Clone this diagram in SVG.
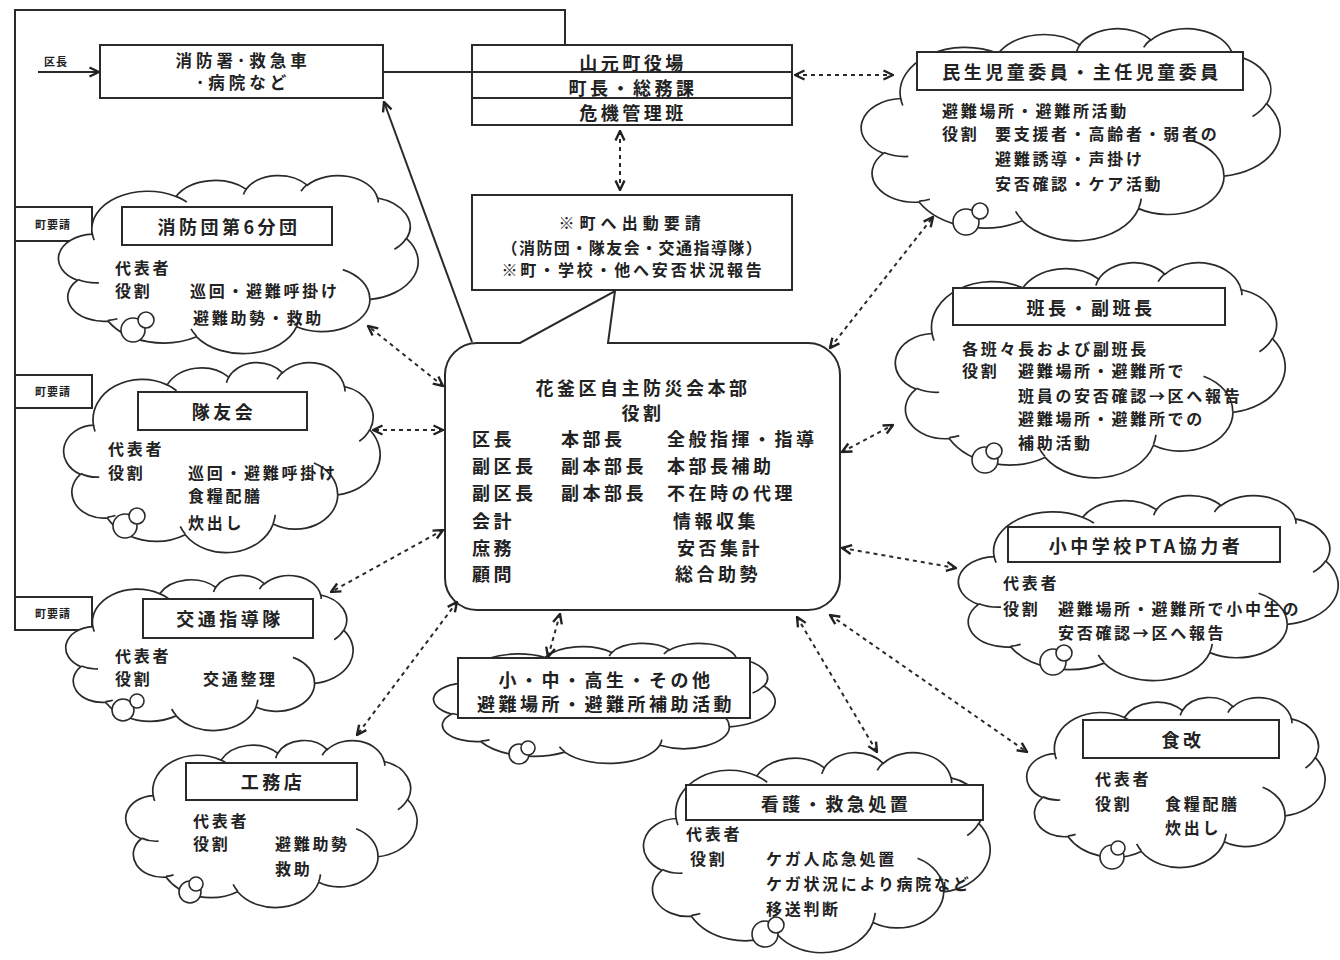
<svg xmlns="http://www.w3.org/2000/svg" width="1340" height="960" viewBox="0 0 1340 960">
<style>
text{font-family:"Noto Sans CJK JP","Noto Sans CJK SC",sans-serif;fill:#222;font-weight:bold;dominant-baseline:central}
.b{font-size:16px;letter-spacing:2.7px}
.h{font-size:18px;letter-spacing:3.5px;text-anchor:middle}
.c{font-size:18px;letter-spacing:3.5px}
.f{font-size:16.5px;letter-spacing:4px}
.m{text-anchor:middle}
.s{font-size:11px;letter-spacing:1px}
.box{fill:#fff;stroke:#2a2a2a;stroke-width:2}
.ln{fill:none;stroke:#2a2a2a;stroke-width:2}
.dl{fill:none;stroke:#2a2a2a;stroke-width:2;stroke-dasharray:4 4;marker-start:url(#ah);marker-end:url(#ah)}
.tail{fill:#fff;stroke:#2a2a2a;stroke-width:1.6}
</style>
<defs>
<marker id="ah" viewBox="0 0 12 12" refX="11" refY="6" markerWidth="12" markerHeight="12" markerUnits="userSpaceOnUse" orient="auto-start-reverse">
<path d="M1.5,1.5 L11,6 L1.5,10.5" fill="none" stroke="#222" stroke-width="2.4" stroke-dasharray="none"/>
</marker>
<g id="cloud">
<path fill="#fff" stroke="#2a2a2a" stroke-width="1.7" vector-effect="non-scaling-stroke" d="M9.03,33.26 A15.63,21.27 0 0 1 32.42,12.04 A12.34,16.82 0 0 1 51.98,7.94 A10.10,13.76 0 0 1 69.06,5.74 A11.24,15.27 0 0 1 88.70,12.90 A12.34,16.84 0 0 1 96.80,35.78 A15.68,21.34 0 0 1 86.59,69.91 A13.39,18.21 0 0 1 66.10,85.21 A15.63,21.33 0 0 1 38.15,90.89 A17.87,24.41 0 0 1 13.44,82.10 A10.09,13.70 0 0 1 4.89,59.14 A10.06,13.76 0 0 1 9.03,33.26 Z"/>
<path fill="none" stroke="#2a2a2a" stroke-width="1.7" vector-effect="non-scaling-stroke" d="M10.86,60.59 A10.06,13.76 0 0 1 5.00,58.75 M16.04,80.78 A10.09,13.70 0 0 1 13.47,81.67 M38.14,90.49 A15.63,21.33 0 0 1 36.60,86.46 M66.73,80.44 A15.63,21.33 0 0 1 66.11,84.86 M79.00,53.13 A13.39,18.21 0 0 1 86.53,69.65 M96.75,35.54 A12.34,16.84 0 0 1 93.41,41.73 M88.71,12.56 A11.24,15.27 0 0 1 88.89,15.49 M67.31,9.15 A11.24,15.27 0 0 1 69.03,5.42 M51.25,10.93 A10.10,13.76 0 0 1 52.09,7.71 M32.41,12.02 A15.63,21.27 0 0 1 35.42,15.14 M9.55,36.55 A15.63,21.27 0 0 1 9.03,33.26"/>
</g>
</defs>
<rect width="1340" height="960" fill="#fff"/>

<!-- request labels on the frame -->
<g id="req1"><rect class="box" x="15" y="207" width="77" height="34"/><text class="s m" x="53" y="224">町要請</text></g>
<g id="req2"><rect class="box" x="15" y="375" width="77" height="33"/><text class="s m" x="53" y="391">町要請</text></g>
<g id="req3"><rect class="box" x="15" y="597" width="77" height="33"/><text class="s m" x="53" y="613">町要請</text></g>

<g id="fire-station">
<rect class="box" x="100" y="45" width="283" height="53"/>
<text class="f m" x="243" y="60">消防署･救急車</text>
<text class="f m" x="243" y="82">･病院など</text>
</g>

<g id="town-office">
<rect class="box" x="472" y="45" width="320" height="80"/>
<line class="ln" x1="472" y1="72" x2="792" y2="72"/>
<line class="ln" x1="472" y1="98" x2="792" y2="98"/>
<text class="c m" x="633" y="62">山元町役場</text>
<text class="c m" x="633" y="87">町長・総務課</text>
<text class="c m" x="633" y="112">危機管理班</text>
</g>

<g id="request-note">
<rect class="box" x="472" y="195" width="320" height="95"/>
<text class="b m" x="631" y="222" textLength="145" lengthAdjust="spacing">※町へ出動要請</text>
<text class="b m" x="633" y="247" textLength="263" lengthAdjust="spacing">（消防団・隊友会・交通指導隊）</text>
<text class="b m" x="633" y="269" textLength="263" lengthAdjust="spacing">※町・学校・他へ安否状況報告</text>
</g>

<g id="hq">
<path class="box" d="M477,343 H520 L615,291 L608,343 H808 A32,32 0 0 1 840,375 V578 A32,32 0 0 1 808,610 H477 A32,32 0 0 1 445,578 V375 A32,32 0 0 1 477,343 Z"/>
<text class="c m" x="643" y="387">花釜区自主防災会本部</text>
<text class="c m" x="643" y="412">役割</text>
<text class="c" x="472" y="438">区長</text>
<text class="c" x="561" y="438">本部長</text>
<text class="c" x="667" y="438">全般指揮・指導</text>
<text class="c" x="472" y="465">副区長</text>
<text class="c" x="561" y="465">副本部長</text>
<text class="c" x="667" y="465">本部長補助</text>
<text class="c" x="472" y="492">副区長</text>
<text class="c" x="561" y="492">副本部長</text>
<text class="c" x="667" y="492">不在時の代理</text>
<text class="c" x="472" y="520">会計</text>
<text class="c" x="673" y="520">情報収集</text>
<text class="c" x="472" y="547">庶務</text>
<text class="c" x="677" y="547">安否集計</text>
<text class="c" x="472" y="573">顧問</text>
<text class="c" x="675" y="573">総合助勢</text>
</g>

<g id="minsei">
<use href="#cloud" transform="translate(863,28) scale(4.17,2.12)"/>
<circle class="tail" cx="966" cy="222" r="13"/><circle class="tail" cx="980" cy="211" r="8"/>
<rect class="box" x="917" y="52" width="326" height="38"/>
<text class="h" x="1082" y="71">民生児童委員・主任児童委員</text>
<text class="b" x="942" y="110">避難場所・避難所活動</text>
<text class="b" x="942" y="133">役割</text>
<text class="b" x="995" y="133">要支援者・高齢者・弱者の</text>
<text class="b" x="995" y="158">避難誘導・声掛け</text>
<text class="b" x="995" y="183">安否確認・ケア活動</text>
</g>

<g id="hancho">
<use href="#cloud" transform="translate(897,262) scale(3.88,2.15)"/>
<circle class="tail" cx="985" cy="460" r="13"/><circle class="tail" cx="994" cy="451" r="8"/>
<rect class="box" x="953" y="288" width="272" height="37"/>
<text class="h" x="1091" y="307">班長・副班長</text>
<text class="b" x="962" y="348">各班々長および副班長</text>
<text class="b" x="962" y="370">役割</text>
<text class="b" x="1018" y="370">避難場所・避難所で</text>
<text class="b" x="1018" y="395">班員の安否確認→区へ報告</text>
<text class="b" x="1018" y="418">避難場所・避難所での</text>
<text class="b" x="1018" y="442">補助活動</text>
</g>

<g id="pta">
<use href="#cloud" transform="translate(960,495) scale(3.78,1.85)"/>
<circle class="tail" cx="1053" cy="662" r="13"/><circle class="tail" cx="1064" cy="653" r="8"/>
<rect class="box" x="1008" y="527" width="272" height="35"/>
<text class="h" x="1146" y="545">小中学校PTA協力者</text>
<text class="b" x="1003" y="582">代表者</text>
<text class="b" x="1003" y="608">役割</text>
<text class="b" x="1058" y="608">避難場所・避難所で小中生の</text>
<text class="b" x="1058" y="632">安否確認→区へ報告</text>
</g>

<g id="shokukai">
<use href="#cloud" transform="translate(1028,697) scale(2.97,1.70)"/>
<circle class="tail" cx="1112" cy="857" r="12"/><circle class="tail" cx="1118" cy="848" r="7"/>
<rect class="box" x="1083" y="720" width="196" height="38"/>
<text class="h" x="1183" y="739">食改</text>
<text class="b" x="1095" y="778">代表者</text>
<text class="b" x="1095" y="803">役割</text>
<text class="b" x="1165" y="803">食糧配膳</text>
<text class="b" x="1165" y="827">炊出し</text>
</g>

<g id="nursing">
<use href="#cloud" transform="translate(645,752) scale(3.45,2.00)"/>
<circle class="tail" cx="765" cy="934" r="13"/><circle class="tail" cx="776" cy="925" r="8"/>
<rect class="box" x="686" y="785" width="297" height="35"/>
<text class="h" x="836" y="803">看護・救急処置</text>
<text class="b" x="686" y="833">代表者</text>
<text class="b" x="690" y="858">役割</text>
<text class="b" x="766" y="858">ケガ人応急処置</text>
<text class="b" x="766" y="883">ケガ状況により病院など</text>
<text class="b" x="766" y="908">移送判断</text>
</g>

<g id="students">
<use href="#cloud" transform="translate(435,643) scale(3.40,1.20)"/>
<circle class="tail" cx="519" cy="754" r="10"/><circle class="tail" cx="528" cy="748" r="7"/>
<rect class="box" x="458" y="658" width="292" height="60"/>
<text class="h" x="606" y="679">小・中・高生・その他</text>
<text class="h" x="606" y="703">避難場所・避難所補助活動</text>
</g>

<g id="koumuten">
<use href="#cloud" transform="translate(127,740) scale(2.90,1.67)"/>
<circle class="tail" cx="190" cy="892" r="11"/><circle class="tail" cx="196" cy="884" r="7"/>
<rect class="box" x="186" y="763" width="171" height="37"/>
<text class="h" x="273" y="781">工務店</text>
<text class="b" x="193" y="820">代表者</text>
<text class="b" x="193" y="843">役割</text>
<text class="b" x="275" y="843">避難助勢</text>
<text class="b" x="275" y="868">救助</text>
</g>

<g id="traffic">
<use href="#cloud" transform="translate(67,575) scale(2.86,1.55)"/>
<circle class="tail" cx="123" cy="710" r="11"/><circle class="tail" cx="137" cy="701" r="7"/>
<rect class="box" x="143" y="599" width="170" height="39"/>
<text class="h" x="230" y="618">交通指導隊</text>
<text class="b" x="115" y="655">代表者</text>
<text class="b" x="115" y="678">役割</text>
<text class="b" x="203" y="678">交通整理</text>
</g>

<g id="taiyukai">
<use href="#cloud" transform="translate(65,362) scale(3.15,1.90)"/>
<circle class="tail" cx="125" cy="526" r="12"/><circle class="tail" cx="137" cy="516" r="8"/>
<rect class="box" x="138" y="392" width="169" height="38"/>
<text class="h" x="224" y="411">隊友会</text>
<text class="b" x="108" y="448">代表者</text>
<text class="b" x="108" y="472">役割</text>
<text class="b" x="188" y="472">巡回・避難呼掛け</text>
<text class="b" x="188" y="495">食糧配膳</text>
<text class="b" x="188" y="522">炊出し</text>
</g>

<g id="shobodan">
<use href="#cloud" transform="translate(60,175) scale(3.58,1.78)"/>
<circle class="tail" cx="133" cy="330" r="12"/><circle class="tail" cx="146" cy="320" r="8"/>
<rect class="box" x="122" y="207" width="210" height="38"/>
<text class="h" x="229" y="226">消防団第6分団</text>
<text class="b" x="115" y="267">代表者</text>
<text class="b" x="115" y="290">役割</text>
<text class="b" x="190" y="290">巡回・避難呼掛け</text>
<text class="b" x="193" y="317">避難助勢・救助</text>
</g>

<g id="connectors">
<polyline class="ln" points="565,45 565,10 15,10 15,597"/>
<text class="s" x="44" y="61">区長</text>
<line class="ln" x1="38" y1="72" x2="99" y2="72" marker-end="url(#ah)"/>
<line class="ln" x1="383" y1="72" x2="472" y2="72"/>
<line class="ln" x1="472" y1="342" x2="384" y2="102" marker-end="url(#ah)"/>
<line class="dl" x1="795" y1="75" x2="893" y2="75"/>
<line class="dl" x1="620" y1="131" x2="620" y2="190"/>
<line class="dl" x1="830" y1="348" x2="933" y2="217"/>
<line class="dl" x1="842" y1="452" x2="893" y2="425"/>
<line class="dl" x1="842" y1="548" x2="956" y2="568"/>
<line class="dl" x1="830" y1="615" x2="1027" y2="752"/>
<line class="dl" x1="797" y1="617" x2="877" y2="752"/>
<line class="dl" x1="560" y1="614" x2="548" y2="657"/>
<line class="dl" x1="457" y1="602" x2="357" y2="735"/>
<line class="dl" x1="443" y1="530" x2="331" y2="592"/>
<line class="dl" x1="443" y1="430" x2="373" y2="430"/>
<line class="dl" x1="443" y1="386" x2="368" y2="326"/>
</g>
</svg>
